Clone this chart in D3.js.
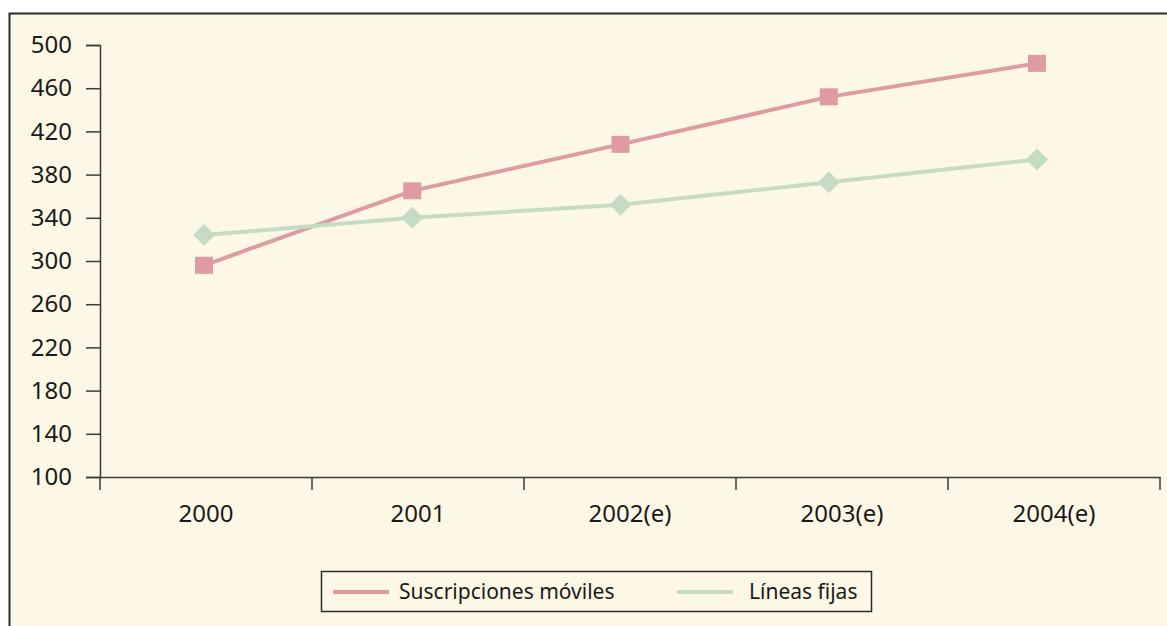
<!DOCTYPE html>
<html>
  <head>
    <meta charset="utf-8">
    <script src="https://cdn.jsdelivr.net/npm/d3@7"></script>
    <style>
      body { margin: 0; background: #ffffff; }
      svg { display: block; font-family: "Noto Sans", sans-serif; }
    </style>
  </head>
  <body>
    <script>
      // Chart data
      var years = ["2000", "2001", "2002(e)", "2003(e)", "2004(e)"];
      var moviles = [296, 365, 408, 452, 483];
      var fijas = [324, 340, 352, 373, 394];
      var yTicks = [100, 140, 180, 220, 260, 300, 340, 380, 420, 460, 500];
      var seriesNames = ["Suscripciones móviles", "Líneas fijas"];

      var width = 1167, height = 626;
      var pink = "#de9ba2", green = "#c5dcc3", ink = "#1a1a1a", axisColor = "#3a3a3a";

      var svg = d3.select("body").append("svg")
        .attr("width", width).attr("height", height);

      // Cream panel with a frame that runs off the right and bottom
      svg.append("rect")
        .attr("x", 9.5).attr("y", 13.5)
        .attr("width", width + 20).attr("height", height + 20)
        .attr("fill", "#fdf8e5")
        .attr("stroke", "#2a2a2a").attr("stroke-width", 2);

      // Scales
      var x = d3.scaleBand().domain(years).range([100, 1160]);
      var xp = d3.scalePoint().domain(years).range([204, 1037]);
      var y = d3.scaleLinear().domain([100, 500]).range([477, 45]);

      // Y axis
      var yAxis = d3.axisLeft(y).tickValues(yTicks)
        .tickSize(14).tickPadding(14).tickFormat(d3.format("d"));
      var gy = svg.append("g").attr("transform", "translate(100,0)").call(yAxis);
      gy.selectAll("text").attr("fill", ink).style("font-size", "24px")
        .style("font-family", "'Noto Sans', sans-serif");
      gy.selectAll("line, path").attr("stroke", axisColor).attr("stroke-width", 1.5);

      // X axis: labels centred in bands, ticks at band edges
      var xAxis = d3.axisBottom(x).tickSizeInner(0).tickSizeOuter(0).tickPadding(28);
      var gx = svg.append("g").attr("transform", "translate(0,477)").call(xAxis);
      gx.selectAll("text").attr("fill", ink).style("font-size", "24px")
        .style("font-family", "'Noto Sans', sans-serif");
      gx.select("path").attr("stroke", axisColor).attr("stroke-width", 1.5);
      gx.selectAll(".tick line").remove();
      var edges = years.map(function(d){ return x(d); }).concat([x.range()[1]]);
      gx.selectAll("line.edge").data(edges).enter().append("line")
        .attr("class", "edge")
        .attr("x1", function(d){ return d; }).attr("x2", function(d){ return d; })
        .attr("y1", 0).attr("y2", 13)
        .attr("stroke", axisColor).attr("stroke-width", 1.5);

      // Lines
      var line = d3.line()
        .x(function(d, i){ return xp(years[i]); })
        .y(function(d){ return y(d); });

      svg.append("path").datum(moviles).attr("d", line)
        .attr("fill", "none").attr("stroke", pink).attr("stroke-width", 4);
      svg.append("path").datum(fijas).attr("d", line)
        .attr("fill", "none").attr("stroke", green).attr("stroke-width", 4);

      // Square markers
      svg.selectAll("rect.sq").data(moviles).enter().append("rect")
        .attr("class", "sq")
        .attr("x", function(d, i){ return xp(years[i]) - 9; })
        .attr("y", function(d){ return y(d) - 8.5; })
        .attr("width", 18).attr("height", 17)
        .attr("fill", pink);

      // Diamond markers
      svg.selectAll("path.dm").data(fijas).enter().append("path")
        .attr("class", "dm")
        .attr("transform", function(d, i){
          return "translate(" + xp(years[i]) + "," + y(d) + ")";
        })
        .attr("d", "M0,-11L11,0L0,11L-11,0Z")
        .attr("fill", green);

      // Legend
      var legend = svg.append("g");
      legend.append("rect")
        .attr("x", 321.5).attr("y", 571.5).attr("width", 550).attr("height", 40)
        .attr("fill", "none").attr("stroke", "#2a2a2a").attr("stroke-width", 1.5);
      var items = [
        {name: seriesNames[0], color: pink, x0: 333, tx: 399},
        {name: seriesNames[1], color: green, x0: 677, tx: 749}
      ];
      items.forEach(function(it){
        legend.append("line")
          .attr("x1", it.x0).attr("x2", it.x0 + 56)
          .attr("y1", 592).attr("y2", 592)
          .attr("stroke", it.color).attr("stroke-width", 4);
        legend.append("text")
          .attr("x", it.tx).attr("y", 592).attr("dy", "0.35em")
          .attr("fill", ink).style("font-size", "21px")
          .text(it.name);
      });
    </script>
  </body>
</html>
